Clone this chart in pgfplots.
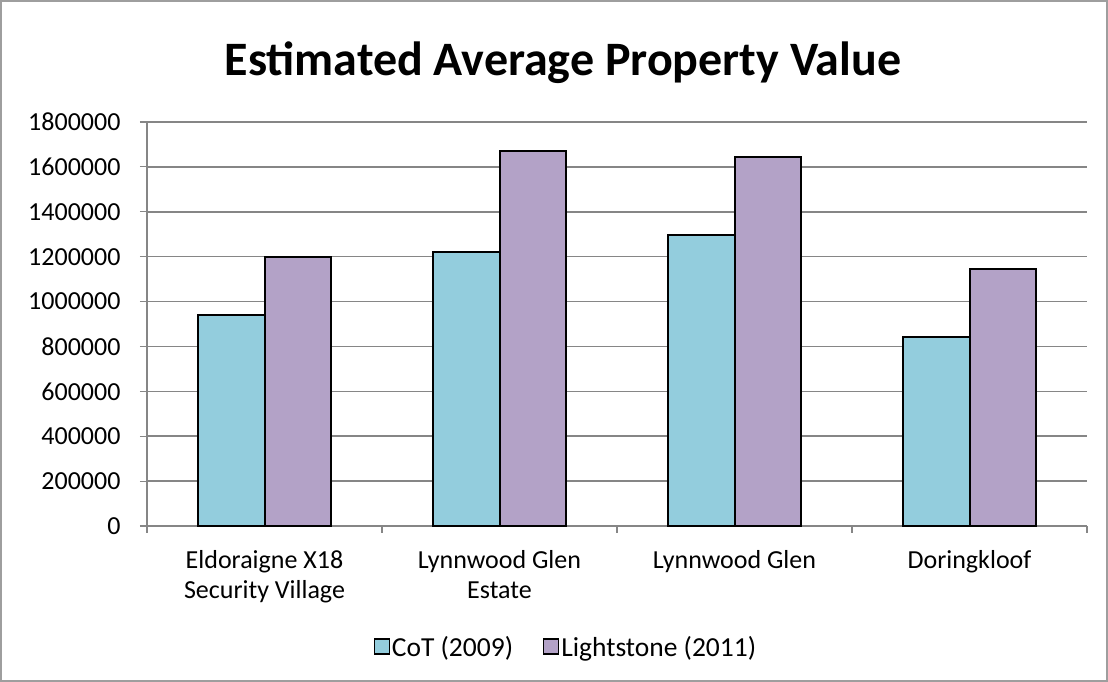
\documentclass[border=0pt]{standalone}
\usepackage{fontspec}
\setmainfont{Carlito}
\usepackage{pgfplots}
\pgfplotsset{compat=1.18}
\definecolor{cotblue}{HTML}{93CDDD}
\definecolor{lspurple}{HTML}{B3A2C7}
\definecolor{gridgray}{HTML}{868686}

\begin{document}
\begin{tikzpicture}[x=1pt,y=1pt]
\useasboundingbox (0,0) rectangle (1108,682);
\draw[gridgray!80, line width=1.5pt] (1,1) rectangle (1107,681);
\node[font=\fontsize{48}{56}\selectfont\bfseries] at (563,619) {Estimated Average Property Value};
\begin{axis}[
	at={(147pt,156pt)}, anchor=south west,
	scale only axis, width=940pt, height=404pt,
	ybar=0pt, bar width=0.285,
	xmin=-0.5, xmax=3.5, ymin=0, ymax=1800000,
	axis x line*=bottom, axis y line*=left,
	axis line style={gridgray, line width=1.2pt},
	scaled y ticks=false,
	ytick={0,200000,400000,600000,800000,1000000,1200000,1400000,1600000,1800000},
	yticklabels={0,200000,400000,600000,800000,1000000,1200000,1400000,1600000,1800000},
	xtick={0,1,2,3},
	xticklabels={{Eldoraigne X18\\Security Village},{Lynnwood Glen\\Estate},{Lynnwood Glen},{Doringkloof}},
	minor xtick={-0.5,0.5,1.5,2.5,3.5},
	major x tick style={draw=none},
	tick align=outside,
	major tick length=7pt, minor tick length=7pt,
	tick style={gridgray, line width=1.2pt},
	ymajorgrids, grid style={gridgray, line width=1.5pt},
	ticklabel style={font=\fontsize{26}{30}\selectfont},
	xticklabel style={align=center, anchor=north, yshift=-14pt},
	yticklabel style={anchor=east, xshift=-16pt},
	legend style={at={(0.4457,-0.2995)}, anchor=center, draw=none,
		legend columns=2, font=\fontsize{27.5}{30}\selectfont,
		/tikz/every even column/.append style={column sep=28pt}},
	legend image code/.code={\draw[#1, draw=black, line width=1.2pt] (0pt,-7pt) rectangle (15pt,8pt);},
	clip=false,
]
\addplot[fill=cotblue, draw=black, line width=2pt] coordinates {(0,940000) (1,1221000) (2,1296000) (3,843000)};
\addplot[fill=lspurple, draw=black, line width=2pt] coordinates {(0,1198000) (1,1673000) (2,1642000) (3,1143000)};
\legend{CoT (2009), Lightstone (2011)}
\end{axis}
\end{tikzpicture}
\end{document}
